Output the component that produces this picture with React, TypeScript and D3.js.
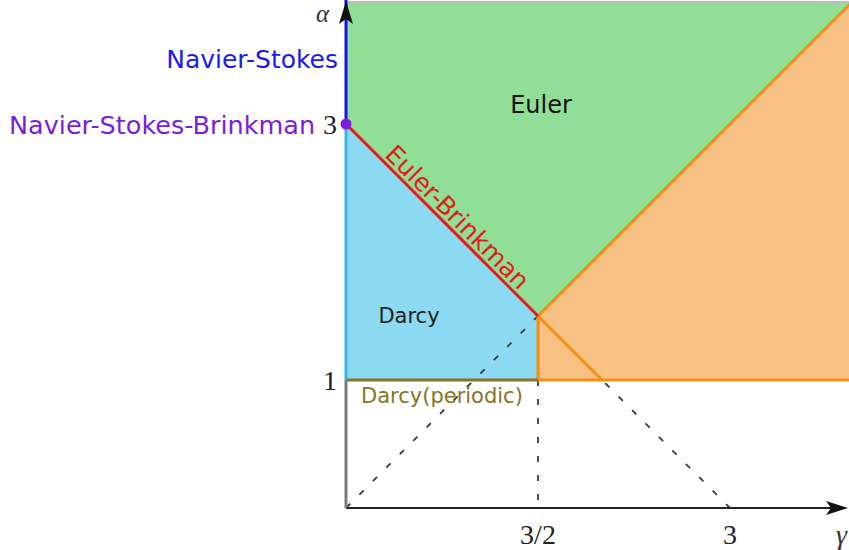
import React from 'react';
import * as d3 from 'd3';

const W = 849;
const H = 550;

// regions of the (gamma, alpha) plane
const eulerZone: [number, number][] = [[0, 3], [0, 3.95], [3.95, 3.95], [1.5, 1.5]];
const darcyZone: [number, number][] = [[0, 1], [0, 3], [1.5, 1.5], [1.5, 1]];
const mixedZone: [number, number][] = [[1.5, 1], [1.5, 1.5], [4.3, 4.3], [4.3, 1]];

// boundary lines
const eulerBrinkman: [number, number][] = [[0, 3], [1.5, 1.5]];
const periodicLine: [number, number][] = [[0, 1], [1.5, 1]];
const orangeEdges: [number, number][][] = [
  [[1.5, 1], [1.5, 1.5], [4.3, 4.3]],
  [[1.5, 1.5], [2, 1]],
  [[1.5, 1], [4.3, 1]],
];
const dashedLines: [number, number][][] = [
  [[0, 0], [1.5, 1.5]],
  [[1.5, 1.5], [3, 0]],
  [[1.5, 1], [1.5, 0]],
];
const topEdge: [number, number][] = [[0, 3.95], [3.95, 3.95]];

// axis pieces on gamma = 0
const alphaAxisParts: { from: number; to: number; color: string }[] = [
  { from: 0, to: 1, color: '#7a7a7a' },
  { from: 1, to: 3, color: '#35b5e5' },
  { from: 3, to: 4.0, color: '#1212e6' },
];

const xTicks = [1.5, 3];
const xTickLabels = ['3/2', '3'];
const yTicks = [1, 3];
const yTickLabels = ['1', '3'];

const x = d3.scaleLinear().domain([0, 3]).range([346, 730]);
const y = d3.scaleLinear().domain([0, 3]).range([508, 124]);

const line = d3.line<[number, number]>()
  .x(d => x(d[0]))
  .y(d => y(d[1]));

const area = (pts: [number, number][]) => line(pts) + 'Z';

const sans = '"DejaVu Sans", sans-serif';
const serif = '"Liberation Serif", "DejaVu Serif", serif';

export default function App() {
  // Euler-Brinkman label sits along the red line
  const lx = x(0.8);
  const ly = y(3 - 0.8);

  return (
    <svg width={W} height={H} style={{ position: 'absolute', left: 0, top: 0, background: '#fff' }}>
      <path d={area(eulerZone)} fill="#90de98" />
      <path d={area(darcyZone)} fill="#8cd9f2" />
      <path d={area(mixedZone)} fill="#f8c183" />

      <path d={line(topEdge)!} stroke="#bdbdbd" strokeWidth={3} fill="none" />

      {dashedLines.map((d, i) => (
        <path key={i} d={line(d)!} stroke="#3a3a3a" strokeWidth={1.8}
              strokeDasharray="6,13" fill="none" />
      ))}

      {orangeEdges.map((d, i) => (
        <path key={i} d={line(d)!} stroke="#f29012" strokeWidth={3}
              fill="none" strokeLinejoin="round" />
      ))}
      <path d={line(periodicLine)!} stroke="#857528" strokeWidth={3} fill="none" />
      <path d={line(eulerBrinkman)!} stroke="#e41b1b" strokeWidth={3} fill="none" />

      {/* axes */}
      <line x1={x(0)} y1={y(0)} x2={838} y2={y(0)} stroke="#222" strokeWidth={2} />
      <path d={`M848,${y(0)} L826,${y(0) - 7} L831,${y(0)} L826,${y(0) + 7} Z`} fill="#111" />
      {alphaAxisParts.map((p, i) => (
        <line key={i} x1={x(0)} x2={x(0)} y1={y(p.from)} y2={y(p.to)}
              stroke={p.color} strokeWidth={3} />
      ))}
      <path d={`M${x(0)},1 L${x(0) - 7},24 L${x(0)},19 L${x(0) + 7},24 Z`} fill="#111" />
      <circle cx={x(0)} cy={y(3)} r={5.5} fill="#7d1ddb" />

      {/* ticks */}
      {xTicks.map((t, i) => (
        <text key={i} x={x(t)} y={544} textAnchor="middle" fontFamily={serif}
              fontSize={28} fill="#222">{xTickLabels[i]}</text>
      ))}
      {yTicks.map((t, i) => (
        <text key={i} x={337} y={y(t) + 10} textAnchor="end" fontFamily={serif}
              fontSize={28} fill="#222">{yTickLabels[i]}</text>
      ))}
      <text x={836} y={544} fontFamily={serif} fontStyle="italic" fontSize={28} fill="#333">γ</text>
      <text x={316} y={22} fontFamily={serif} fontStyle="italic" fontSize={25} fill="#333">α</text>

      {/* region labels */}
      <text x={338} y={68} textAnchor="end" fontFamily={sans} fontSize={25} fill="#1a1aee">Navier-Stokes</text>
      <text x={9} y={134} fontFamily={sans} fontSize={25.5} fill="#7d1ddb">Navier-Stokes-Brinkman</text>
      <text x={541} y={113} textAnchor="middle" fontFamily={sans} fontSize={24} fill="#111">Euler</text>
      <text x={409} y={323} textAnchor="middle" fontFamily={sans} fontSize={21} fill="#222">Darcy</text>
      <text x={361} y={403} fontFamily={sans} fontSize={21} fill="#857528">Darcy(periodic)</text>
      <text transform={`translate(${lx + 3},${ly - 3}) rotate(45)`} textAnchor="middle"
            fontFamily={sans} fontSize={25} fill="#e41b1b">Euler-Brinkman</text>
    </svg>
  );
}
